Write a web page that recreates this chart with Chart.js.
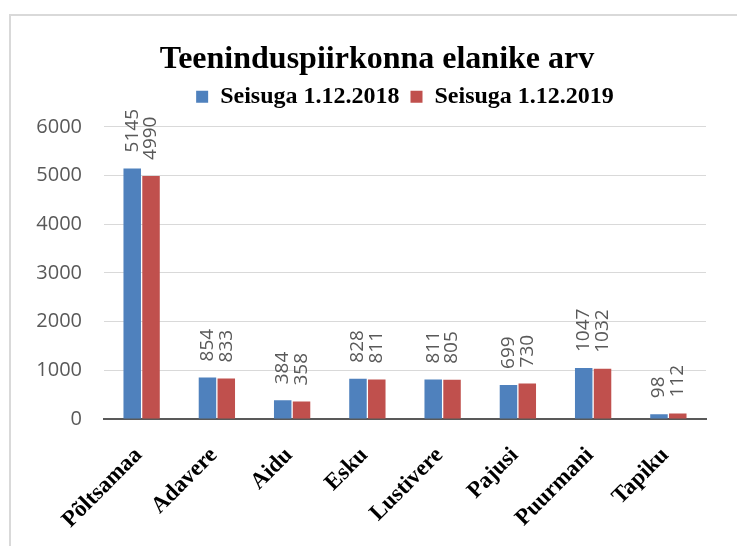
<!DOCTYPE html>
<html lang="et">
  <head>
    <meta charset="UTF-8" />
    <title>Teeninduspiirkonna elanike arv</title>
    <style>
      html,
      body {
        margin: 0;
        padding: 0;
        overflow: hidden;
        background: #ffffff;
      }
      .frame {
        position: absolute;
        left: 9px;
        top: 14px;
        width: 800px;
        height: 600px;
        border-left: 2px solid #d9d9d9;
        border-top: 2px solid #d9d9d9;
      }
      #chart {
        position: absolute;
        left: 0;
        top: 0;
      }
    </style>
    <script src="https://cdn.jsdelivr.net/npm/chart.js"></script>
  </head>
  <body>
    <div class="frame"></div>
    <canvas id="chart" width="737" height="546"></canvas>
    <script>
      const villages = [
        "Põltsamaa",
        "Adavere",
        "Aidu",
        "Esku",
        "Lustivere",
        "Pajusi",
        "Puurmani",
        "Tapiku",
      ];
      const residents2018 = [5145, 854, 384, 828, 811, 699, 1047, 98];
      const residents2019 = [4990, 833, 358, 811, 805, 730, 1032, 112];
      const yTicks = [0, 1000, 2000, 3000, 4000, 5000, 6000];

      // values written upright above each bar
      const barValues = {
        id: "barValues",
        afterDatasetsDraw(chart) {
          const ctx = chart.ctx;
          ctx.save();
          ctx.font = "19px 'Open Sans'";
          ctx.fillStyle = "#595959";
          ctx.textAlign = "left";
          ctx.textBaseline = "middle";
          chart.data.datasets.forEach((ds, i) => {
            chart.getDatasetMeta(i).data.forEach((bar, j) => {
              ctx.save();
              ctx.translate(bar.x, bar.y - 16);
              ctx.rotate(-Math.PI / 2);
              ctx.fillText(String(ds.data[j]), 0, 0);
              ctx.restore();
            });
          });
          ctx.restore();
        },
      };

      // title sits a bit right of the canvas centre in the original
      const titleNudge = {
        id: "titleNudge",
        afterLayout(chart) {
          if (chart.titleBlock) chart.titleBlock.left = 48;
        },
      };

      new Chart(document.getElementById("chart"), {
        type: "bar",
        data: {
          labels: villages,
          datasets: [
            {
              label: "Seisuga 1.12.2018",
              data: residents2018,
              backgroundColor: "#4f81bd",
              categoryPercentage: 0.5,
              barPercentage: 0.93,
            },
            {
              label: "Seisuga 1.12.2019",
              data: residents2019,
              backgroundColor: "#c0504d",
              categoryPercentage: 0.5,
              barPercentage: 0.93,
            },
          ],
        },
        options: {
          responsive: false,
          animation: false,
          layout: {
            padding: { left: 18, right: 31, top: 33, bottom: 0 },
          },
          plugins: {
            title: {
              display: true,
              text: "Teeninduspiirkonna elanike arv",
              color: "#000000",
              font: {
                family: "'Liberation Serif'",
                size: 32,
                weight: "bold",
                lineHeight: 0.9,
              },
              padding: { top: 12, bottom: 0 },
            },
            legend: {
              position: "top",
              fullSize: false,
              weight: 1800,
              labels: {
                color: "#000000",
                font: { family: "'Liberation Serif'", size: 24, weight: "bold" },
                boxWidth: 12,
                boxHeight: 12,
                padding: 11,
              },
            },
            // empty line: gap between legend and plot
            subtitle: {
              display: true,
              text: "",
              font: { size: 8, lineHeight: 1 },
              padding: 0,
            },
            tooltip: { enabled: false },
          },
          scales: {
            x: {
              grid: { display: false, drawTicks: false },
              border: { color: "#595959", width: 2 },
              ticks: {
                color: "#000000",
                font: { family: "'Liberation Serif'", size: 23, weight: "bold" },
                minRotation: 45,
                maxRotation: 45,
                padding: 23,
                labelOffset: -3,
              },
              afterFit(scale) {
                scale.height = 127;
              },
            },
            y: {
              min: 0,
              max: 6000,
              afterBuildTicks(scale) {
                scale.ticks = yTicks.map((v) => ({ value: v }));
              },
              grid: { color: "#d9d9d9", lineWidth: 1, drawTicks: false },
              border: { display: false },
              ticks: {
                color: "#595959",
                font: { family: "'Open Sans'", size: 20 },
                padding: 22,
                callback: (value) => String(value),
              },
              afterFit(scale) {
                scale.width = 86;
              },
            },
          },
        },
        plugins: [barValues, titleNudge],
      });
    </script>
  </body>
</html>
